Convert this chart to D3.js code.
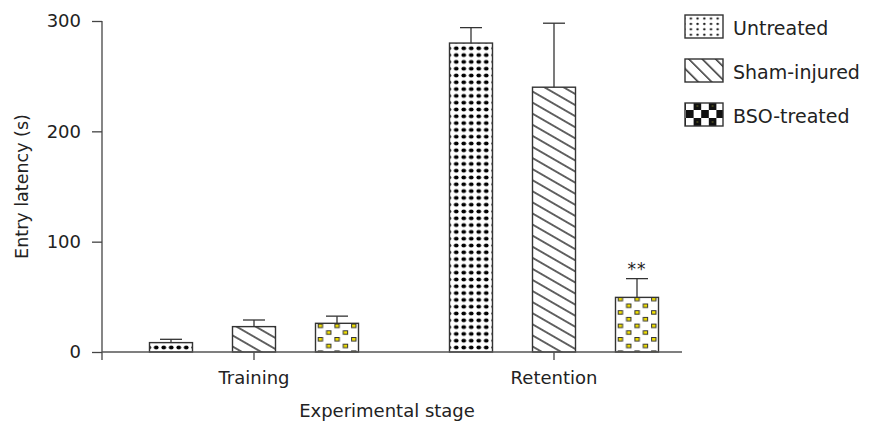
<!DOCTYPE html>
<html>
<head>
<meta charset="utf-8">
<script src="https://cdn.jsdelivr.net/npm/d3@7"></script>
<style>
  body { margin: 0; background: #fff; }
  text { font-family: "DejaVu Sans", "Noto Sans", sans-serif; fill: #222; }
</style>
</head>
<body>
<div id="chart-area"></div>
<script>
// Chart values.
var groups = ["Training", "Retention"];
var series = ["Untreated", "Sham-injured", "BSO-treated"];
var untreatedMean = [8.5, 280];
var untreatedSem = [3, 14];
var shamMean = [23, 240];
var shamSem = [6, 58];
var bsoMean = [26, 49.5];
var bsoSem = [6.5, 17];
var yTicks = [0, 100, 200, 300];
var stars = [{group: "Retention", series: "BSO-treated", label: "**"}];

var means = [untreatedMean, shamMean, bsoMean];
var sems = [untreatedSem, shamSem, bsoSem];
var data = [];
groups.forEach(function(g, gi) {
    series.forEach(function(s, si) {
        data.push({group: g, series: s, si: si, mean: means[si][gi], sem: sems[si][gi]});
    });
});

var width = 878, height = 426;
var svg = d3.select("#chart-area").append("svg")
    .attr("width", width)
    .attr("height", height);

var axisLeftX = 102, axisRightX = 682;
var barW = 43;

var y = d3.scaleLinear().domain([0, 300]).range([352, 21]);
var x = d3.scaleBand().domain(groups).range([104, 704]);
var xs = d3.scalePoint().domain(series).range([-83, 83]);

function barCx(d) { return x(d.group) + x.bandwidth() / 2 + xs(d.series); }

var defs = svg.append("defs");

// one pattern per bar so the fill lines up with each bar's edges
data.forEach(function(d, i) {
    var left = barCx(d) - barW / 2, bottom = y(0);
    var p;
    if (d.si === 0) {
        p = defs.append("pattern").attr("id", "pat" + i)
            .attr("patternUnits", "userSpaceOnUse")
            .attr("width", 7.5).attr("height", 6.8)
            .attr("x", left + 3).attr("y", bottom - 7.9);
        p.append("ellipse").attr("cx", 3.75).attr("cy", 3.4).attr("rx", 2.4).attr("ry", 2).attr("fill", "#000");
    } else if (d.si === 1) {
        p = defs.append("pattern").attr("id", "pat" + i)
            .attr("patternUnits", "userSpaceOnUse")
            .attr("width", 10).attr("height", 9.6)
            .attr("x", left).attr("y", bottom)
            .attr("patternTransform", "rotate(30 " + left + " " + bottom + ")");
        p.append("line").attr("x1", 0).attr("x2", 10).attr("y1", 4.8).attr("y2", 4.8)
            .attr("stroke", "#111").attr("stroke-width", 1.3);
    } else {
        p = defs.append("pattern").attr("id", "pat" + i)
            .attr("patternUnits", "userSpaceOnUse")
            .attr("width", 16.7).attr("height", 13.4)
            .attr("x", left + 2.2).attr("y", bottom - 15);
        [[0, 0], [8.35, 6.7]].forEach(function(o) {
            p.append("rect").attr("x", o[0] + 0.5).attr("y", o[1] + 0.5)
                .attr("width", 4.4).attr("height", 3.5)
                .attr("fill", "#f5e400").attr("stroke", "#333").attr("stroke-width", 1);
        });
    }
});

// legend patterns
var lp1 = defs.append("pattern").attr("id", "leg0").attr("patternUnits", "userSpaceOnUse")
    .attr("width", 6.7).attr("height", 5.4).attr("x", 686).attr("y", 17);
lp1.append("circle").attr("cx", 3.3).attr("cy", 2.7).attr("r", 1.2).attr("fill", "#111");
var lp2 = defs.append("pattern").attr("id", "leg1").attr("patternUnits", "userSpaceOnUse")
    .attr("width", 10).attr("height", 9.5).attr("patternTransform", "rotate(45 685 59)")
    .attr("x", 685).attr("y", 59);
lp2.append("line").attr("x1", 0).attr("x2", 10).attr("y1", 3).attr("y2", 3)
    .attr("stroke", "#111").attr("stroke-width", 1.3);
var lp3 = defs.append("pattern").attr("id", "leg2").attr("patternUnits", "userSpaceOnUse")
    .attr("width", 15.2).attr("height", 16).attr("x", 685).attr("y", 103);
lp3.append("rect").attr("width", 15.2).attr("height", 16).attr("fill", "#fff");
lp3.append("rect").attr("x", 0).attr("y", 0).attr("width", 7.6).attr("height", 8).attr("fill", "#111");
lp3.append("rect").attr("x", 7.6).attr("y", 8).attr("width", 7.6).attr("height", 8).attr("fill", "#111");
lp3.append("circle").attr("cx", 11.4).attr("cy", 12).attr("r", 0.7).attr("fill", "#8a8a30");

// bars
svg.selectAll("rect.bar")
    .data(data)
    .enter()
    .append("rect")
    .attr("class", "bar")
    .attr("x", function(d) { return barCx(d) - barW / 2; })
    .attr("y", function(d) { return y(d.mean); })
    .attr("width", barW)
    .attr("height", function(d) { return y(0) - y(d.mean); })
    .attr("fill", function(d, i) { return "url(#pat" + i + ")"; })
    .attr("stroke", "#333")
    .attr("stroke-width", 1.4);

// error bars (upper only)
var err = svg.selectAll("g.err").data(data).enter().append("g").attr("class", "err");
err.append("line")
    .attr("x1", barCx).attr("x2", barCx)
    .attr("y1", function(d) { return y(d.mean); })
    .attr("y2", function(d) { return y(d.mean + d.sem); })
    .attr("stroke", "#333").attr("stroke-width", 1.3);
err.append("line")
    .attr("x1", function(d) { return barCx(d) - 11; })
    .attr("x2", function(d) { return barCx(d) + 11; })
    .attr("y1", function(d) { return y(d.mean + d.sem); })
    .attr("y2", function(d) { return y(d.mean + d.sem); })
    .attr("stroke", "#333").attr("stroke-width", 1.3);

// significance marks
svg.selectAll("text.star")
    .data(stars)
    .enter()
    .append("text")
    .attr("class", "star")
    .attr("x", function(s) {
        var d = data.find(function(e) { return e.group === s.group && e.series === s.series; });
        return barCx(d);
    })
    .attr("y", function(s) {
        var d = data.find(function(e) { return e.group === s.group && e.series === s.series; });
        return y(d.mean + d.sem) - 4;
    })
    .attr("text-anchor", "middle")
    .style("font-size", "17px")
    .style("letter-spacing", "1px")
    .text(function(s) { return s.label; });

// Y axis
var yAxis = svg.append("g")
    .attr("transform", "translate(" + axisLeftX + ",0)")
    .call(d3.axisLeft(y).tickValues(yTicks).tickSize(10).tickPadding(11).tickSizeOuter(0));
yAxis.select(".domain").remove();
yAxis.selectAll("line").attr("stroke", "#444").attr("stroke-width", 1.3);
yAxis.selectAll("text").style("font-size", "18px").attr("fill", "#222");
svg.append("line")
    .attr("x1", axisLeftX).attr("x2", axisLeftX)
    .attr("y1", y(300)).attr("y2", y(0) + 8)
    .attr("stroke", "#444").attr("stroke-width", 1.3);

// X axis
var xAxis = svg.append("g")
    .attr("transform", "translate(0," + y(0) + ")")
    .call(d3.axisBottom(x).tickSize(8).tickPadding(11).tickSizeOuter(0));
xAxis.select(".domain").remove();
xAxis.selectAll("line").attr("stroke", "#444").attr("stroke-width", 1.3);
xAxis.selectAll("text").style("font-size", "18px").attr("fill", "#222");
svg.append("line")
    .attr("x1", axisLeftX).attr("x2", axisRightX)
    .attr("y1", y(0)).attr("y2", y(0))
    .attr("stroke", "#555").attr("stroke-width", 1.5);

// Axis labels
svg.append("text")
    .attr("x", (axisLeftX + axisRightX) / 2 - 5)
    .attr("y", 417)
    .attr("text-anchor", "middle")
    .style("font-size", "18px")
    .text("Experimental stage");

svg.append("text")
    .attr("transform", "rotate(-90)")
    .attr("x", -(y(0) + y(300)) / 2)
    .attr("y", 28)
    .attr("text-anchor", "middle")
    .style("font-size", "17.5px")
    .text("Entry latency (s)");

// Legend
var legend = svg.selectAll("g.legend")
    .data(series)
    .enter()
    .append("g")
    .attr("class", "legend")
    .attr("transform", function(d, i) { return "translate(685," + (15 + i * 44) + ")"; });
legend.append("rect")
    .attr("width", 38).attr("height", 23)
    .attr("fill", function(d, i) { return "url(#leg" + i + ")"; })
    .attr("stroke", "#333").attr("stroke-width", 1.4);
legend.append("text")
    .attr("x", 48).attr("y", 20)
    .style("font-size", "19px")
    .text(function(d) { return d; });
</script>
</body>
</html>
